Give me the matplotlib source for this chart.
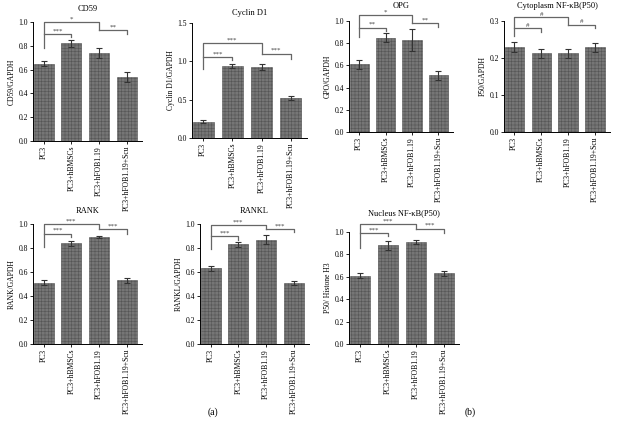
import matplotlib
matplotlib.use("Agg")
import matplotlib.pyplot as plt
import numpy as np

plt.rcParams['font.family'] = ['Liberation Serif', 'DejaVu Serif']
plt.rcParams['hatch.color'] = '#3a3a3a'
plt.rcParams['hatch.linewidth'] = 0.4

groups = ["PC3", "PC3+hBMSCs", "PC3+hFOB1.19", "PC3+hFOB1.19+Scu"]

cd59 = [0.65, 0.82, 0.74, 0.54]
cd59_err = [0.02, 0.03, 0.04, 0.04]
cyclin = [0.21, 0.94, 0.93, 0.52]
cyclin_err = [0.02, 0.03, 0.04, 0.03]
opg = [0.61, 0.85, 0.83, 0.51]
opg_err = [0.04, 0.04, 0.10, 0.04]
cyto = [0.230, 0.213, 0.213, 0.229]
cyto_err = [0.013, 0.012, 0.012, 0.012]
rank = [0.51, 0.84, 0.89, 0.53]
rank_err = [0.02, 0.02, 0.01, 0.02]
rankl = [0.63, 0.83, 0.87, 0.51]
rankl_err = [0.02, 0.02, 0.04, 0.015]
nuc = [0.61, 0.88, 0.91, 0.63]
nuc_err = [0.02, 0.04, 0.02, 0.02]

W, H = 618, 426
fig = plt.figure(figsize=(W / 100, H / 100), dpi=100)

def axbox(l, t, r, b):
    return [l / W, 1 - b / H, (r - l) / W, (b - t) / H]

panels = [
    ("CD59", "CD59/GAPDH", cd59, cd59_err, 1.0, np.arange(0, 1.01, 0.2), (33, 22, 142, 141),
     (1.0, 0.78, 0.93), (0.9, 0.87), (0.93, 0.90), ("*", "***", "**"), 8),
    ("Cyclin D1", "Cyclin D1/GAPDH", cyclin, cyclin_err, 1.5, np.arange(0, 1.51, 0.5), (192, 23, 307, 138),
     (1.24, 0.90, 1.10), (1.06, 1.02), (1.10, 1.03), ("***", "***", "***"), 6),
    ("OPG", "GPO/GAPDH", opg, opg_err, 1.0, np.arange(0, 1.01, 0.2), (349, 21, 453, 132),
     (1.05, 0.86, 0.98), (0.94, 0.91), (0.98, 0.95), ("*", "**", "**"), 9),
    ("Cytoplasm NF-\u03baB(P50)", "P50/GAPDH", cyto, cyto_err, 0.3, np.arange(0, 0.31, 0.1), (504, 21, 610, 132),
     (0.31, 0.26, 0.29), (0.28, 0.27), (0.29, 0.28), ("#", "#", "#"), 9),
    ("RANK", "RANK/GAPDH", rank, rank_err, 1.0, np.arange(0, 1.01, 0.2), (33, 224, 142, 344),
     (1.0, 0.81, 0.96), (0.92, 0.89), (0.96, 0.92), ("***", "***", "***"), 8),
    ("RANKL", "RANKL/GAPDH", rankl, rankl_err, 1.0, np.arange(0, 1.01, 0.2), (200, 224, 309, 344),
     (0.99, 0.79, 0.96), (0.9, 0.87), (0.96, 0.93), ("***", "***", "***"), 8),
    ("Nucleus NF-\u03baB(P50)", "P50/ Histone H3", nuc, nuc_err, 1.0, np.arange(0, 1.01, 0.2), (349, 232, 459, 344),
     (1.07, 0.86, 1.03), (0.99, 0.96), (1.03, 0.99), ("***", "***", "***"), 12),
]

lc = '#666666'
for (title, ylab, vals, errs, ymax, yt, box, top, low, right, stars, tpad) in panels:
    ax = fig.add_axes(axbox(*box))
    x = np.arange(len(groups))
    ax.bar(x, vals, width=0.72, color='#767676', edgecolor='#555555', linewidth=0.4,
           hatch='+++++', yerr=errs, capsize=2.5,
           error_kw=dict(elinewidth=0.8, capthick=0.8, ecolor='#333333'), zorder=2)
    ax.set_xlim(-0.38, 3.55)
    ax.set_ylim(0, ymax)
    ax.set_yticks(yt)
    ax.set_yticklabels(["{:.1f}".format(v) for v in yt], fontsize=5.5)
    ax.set_xticks(x)
    ax.set_xticklabels(groups, rotation=90, fontsize=5.5)
    ax.spines['top'].set_visible(False)
    ax.spines['right'].set_visible(False)
    for s in ('left', 'bottom'):
        ax.spines[s].set_linewidth(0.7)
    ax.tick_params(length=2, width=0.6, pad=1.5)
    ax.set_ylabel(ylab, fontsize=5.5, labelpad=2)
    ax.set_title(title, fontsize=6, pad=tpad)
    ytop, yl0, yr0 = top
    ax.plot([0, 0, 2, 2], [yl0, ytop, ytop, yr0], color=lc, lw=0.9, clip_on=False)
    ax.text(1, ytop + ymax * 0.005, stars[0], ha='center', va='bottom', fontsize=5, color='#444444')
    yb, yb2 = low
    ax.plot([0, 1, 1], [yb, yb, yb2], color=lc, lw=0.9, clip_on=False)
    ax.text(0.5, yb + ymax * 0.005, stars[1], ha='center', va='bottom', fontsize=5, color='#444444')
    yc, yc2 = right
    ax.plot([2, 3, 3], [yc, yc, yc2], color=lc, lw=0.9, clip_on=False)
    ax.text(2.5, yc + ymax * 0.005, stars[2], ha='center', va='bottom', fontsize=5, color='#444444')

fig.text(213 / W, 1 - 412 / H, "(a)", fontsize=7, ha='center', va='center')
fig.text(470 / W, 1 - 412 / H, "(b)", fontsize=7, ha='center', va='center')

fig.savefig("out.png", dpi=100)
